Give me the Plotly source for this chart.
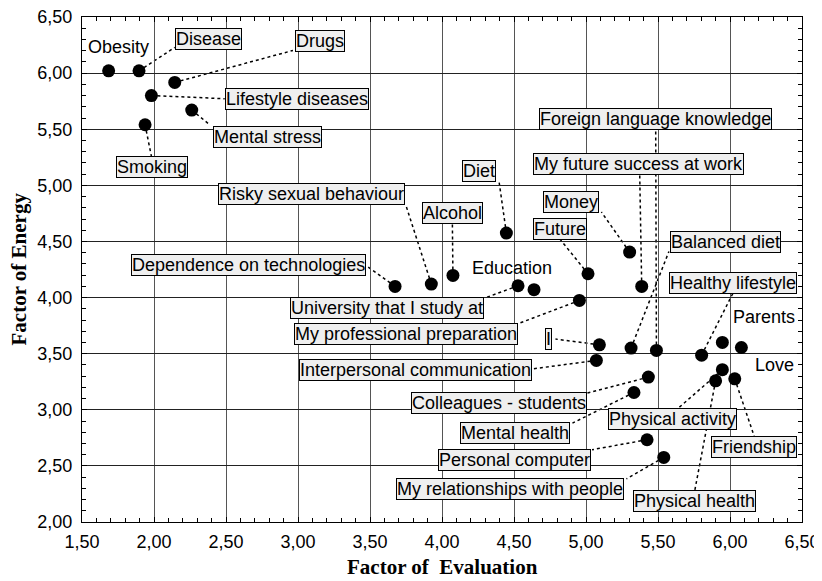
import plotly.graph_objects as go

# ---- data ----
names = [
    "Obesity", "Disease", "Drugs", "Lifestyle diseases", "Mental stress", "Smoking",
    "Dependence on technologies", "Risky sexual behaviour", "Alcohol", "Diet",
    "University that I study at", "Education", "Future", "My professional preparation",
    "Money", "My future success at work", "Foreign language knowledge", "Balanced diet",
    "I", "Interpersonal communication", "Healthy lifestyle", "Parents", "Love",
    "Physical activity", "Physical health", "Friendship", "Colleagues - students",
    "Mental health", "Personal computer", "My relationships with people",
]
evaluation = [
    1.685, 1.896, 2.144, 1.982, 2.262, 1.938,
    3.674, 3.926, 4.076, 4.447,
    4.528, 4.639, 5.014, 4.954,
    5.303, 5.387, 5.489, 5.313,
    5.093, 5.072, 5.803, 5.947, 6.079,
    5.947, 5.900, 6.033, 5.433,
    5.333, 5.424, 5.540,
]
energy = [
    6.02, 6.02, 5.917, 5.80, 5.671, 5.54,
    4.099, 4.12, 4.197, 4.575,
    4.105, 4.07, 4.212, 3.974,
    4.405, 4.099, 3.529, 3.55,
    3.579, 3.44, 3.487, 3.60, 3.555,
    3.357, 3.258, 3.276, 3.291,
    3.154, 2.733, 2.575,
]
tick_vals = [1.5, 2.0, 2.5, 3.0, 3.5, 4.0, 4.5, 5.0, 5.5, 6.0, 6.5]
ytick_vals = [2.0, 2.5, 3.0, 3.5, 4.0, 4.5, 5.0, 5.5, 6.0, 6.5]
x_title = "Factor of  Evaluation"
y_title = "Factor of Energy"

# ---- label layout: (label centre x, y, leader end x, y or None, boxed) ----
label_layout = {
    "Obesity": (1.755, 6.229, None, None, False),
    "Disease": (2.380, 6.307, 2.144, 6.229, True),
    "Drugs": (3.151, 6.286, 2.965, 6.202, True),
    "Lifestyle diseases": (2.994, 5.766, 2.491, 5.772, True),
    "Mental stress": (2.786, 5.433, 2.387, 5.540, True),
    "Smoking": (1.984, 5.164, 1.982, 5.258, True),
    "Risky sexual behaviour": (3.097, 4.919, 3.748, 4.827, True),
    "Dependence on technologies": (2.659, 4.290, 3.486, 4.272, True),
    "University that I study at": (3.616, 3.906, 4.297, 3.996, True),
    "My professional preparation": (3.753, 3.671, 4.528, 3.767, True),
    "Interpersonal communication": (3.814, 3.358, 4.621, 3.363, True),
    "Alcohol": (4.071, 4.750, 4.072, 4.664, True),
    "Diet": (4.260, 5.127, 4.396, 5.035, True),
    "Money": (4.899, 4.851, 5.107, 4.762, True),
    "Future": (4.817, 4.613, 4.817, 4.524, True),
    "Balanced diet": (5.970, 4.497, 5.576, 4.411, True),
    "Healthy lifestyle": (6.024, 4.132, 6.021, 4.040, True),
    "Parents": (6.236, 3.823, None, None, False),
    "I": (4.741, 3.631, 4.788, 3.630, True),
    "Foreign language knowledge": (5.481, 5.587, 5.484, 5.511, True),
    "My future success at work": (5.365, 5.190, 5.373, 5.101, True),
    "Love": (6.310, 3.401, None, None, False),
    "Education": (4.486, 4.263, None, None, False),
    "Colleagues - students": (4.396, 3.060, 5.010, 3.149, True),
    "Mental health": (4.510, 2.792, 4.906, 2.881, True),
    "Personal computer": (4.503, 2.552, 5.042, 2.644, True),
    "My relationships with people": (4.475, 2.294, 5.281, 2.385, True),
    "Physical activity": (5.602, 2.914, 5.628, 3.000, True),
    "Physical health": (5.753, 2.186, 5.755, 2.278, True),
    "Friendship": (6.170, 2.664, 6.171, 2.753, True),
}

SANS = "Liberation Sans, Arial, sans-serif"
SERIF = "Liberation Serif, Times New Roman, serif"

fig = go.Figure()
fig.add_trace(go.Scatter(
    x=evaluation, y=energy, mode="markers",
    marker=dict(size=13, color="black"),
    text=names, hoverinfo="text", showlegend=False,
))

shapes = []
annotations = []
for name, px, py in zip(names, evaluation, energy):
    lx, ly, ex, ey, boxed = label_layout[name]
    if ex is not None:
        shapes.append(dict(type="line", xref="x", yref="y", x0=px, y0=py, x1=ex, y1=ey,
                           line=dict(color="black", width=1.5, dash="dot"), layer="below"))
    ann = dict(x=lx, y=ly, xref="x", yref="y", text=name, showarrow=False,
               font=dict(family=SANS, size=18, color="black"))
    if boxed:
        ann.update(bgcolor="#efefef", bordercolor="black", borderwidth=1, borderpad=0)
    annotations.append(ann)

# axis titles
annotations.append(dict(x=0.5, y=0, xref="paper", yref="paper", xanchor="center", yanchor="bottom",
                        yshift=-59, text="<b>" + x_title + "</b>", showarrow=False,
                        font=dict(family=SERIF, size=21, color="black")))
annotations.append(dict(x=0, y=0.5, xref="paper", yref="paper", xanchor="center", yanchor="middle",
                        xshift=-64, text="<b>" + y_title + "</b>", textangle=-90, showarrow=False,
                        font=dict(family=SERIF, size=21, color="black")))

axis_common = dict(
    showline=True, linecolor="black", linewidth=1, mirror="allticks",
    ticks="inside", ticklen=5, tickcolor="black", tickwidth=1,
    tickformat=".2f", tickfont=dict(family=SANS, size=18, color="black"),
    ticklabeloverflow="allow",
    showgrid=True, zeroline=False, automargin=False,
)

# the page body has an 8px default margin, so the figure is made 8px smaller
# and the plot margins compensate, keeping the plot area where the reference has it
fig.update_layout(
    width=814, height=573,
    margin=dict(l=74, r=20, t=9, b=59),
    paper_bgcolor="white", plot_bgcolor="white",
    separators=",.",
    shapes=shapes, annotations=annotations,
    xaxis=dict(range=[1.5, 6.5], tickvals=tick_vals, gridcolor="#555555", gridwidth=1,
               minor=dict(dtick=0.1, ticks="inside", ticklen=4, tickcolor="black", showgrid=False),
               ticklabelstandoff=3,
               **axis_common),
    yaxis=dict(range=[2.0, 6.5], tickvals=ytick_vals, gridcolor="#222222", gridwidth=1,
               minor=dict(dtick=0.1, ticks="inside", ticklen=4, tickcolor="black", showgrid=False),
               ticklabelstandoff=5,
               **axis_common),
)

fig.write_html("out.html")
